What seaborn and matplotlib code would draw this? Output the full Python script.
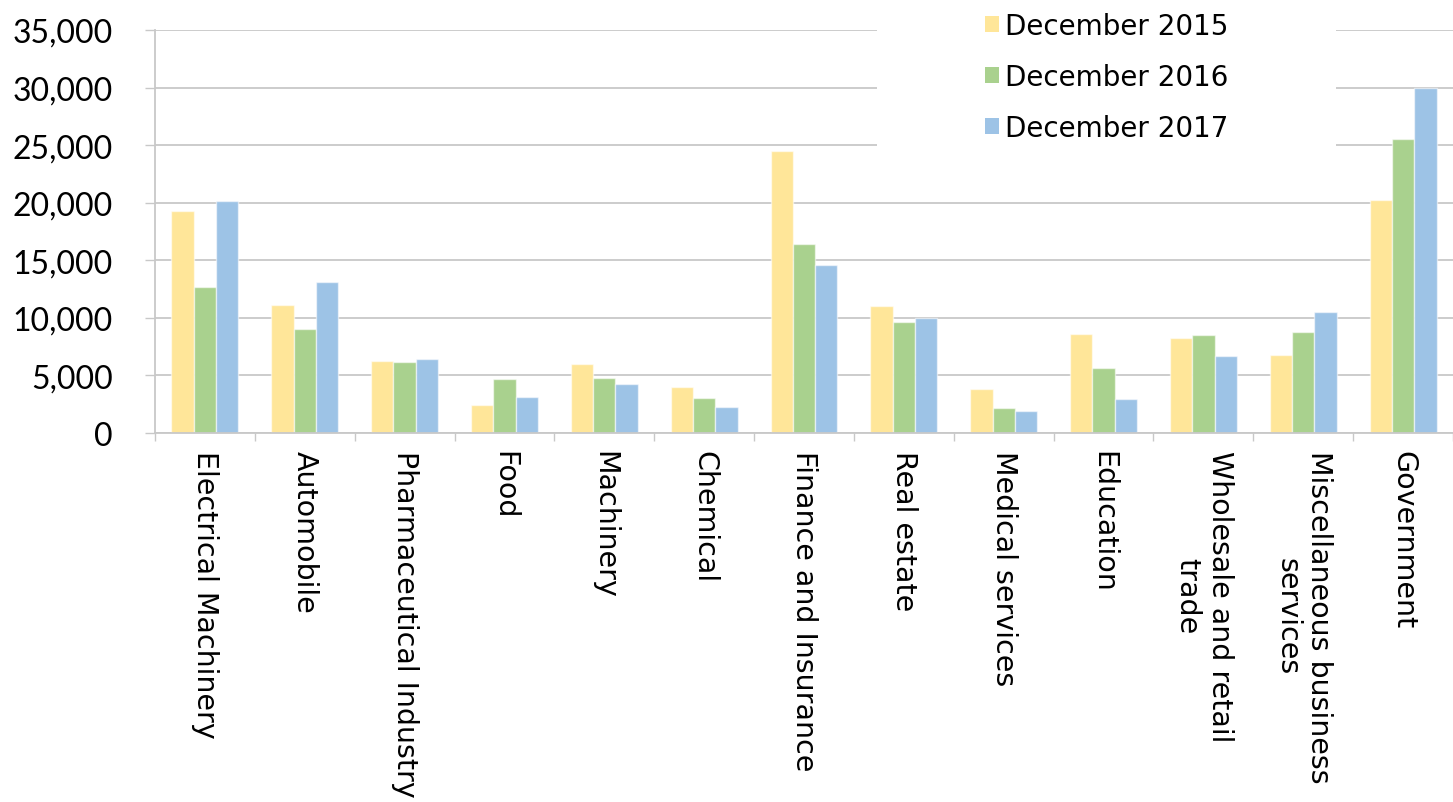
import matplotlib
matplotlib.use("Agg")
import matplotlib.pyplot as plt
import matplotlib.ticker as mticker
from matplotlib.patches import Rectangle
import seaborn as sns
import pandas as pd

categories = [
    "Electrical Machinery", "Automobile", "Pharmaceutical Industry", "Food",
    "Machinery", "Chemical", "Finance and Insurance", "Real estate",
    "Medical services", "Education", "Wholesale and retail\ntrade",
    "Miscellaneous business\nservices", "Government",
]
series_names = ["December 2015", "December 2016", "December 2017"]
dec_2015 = [19300, 11100, 6250, 2400, 6000, 4000, 24500, 11000, 3800, 8600, 8250, 6800, 20250]
dec_2016 = [12650, 9000, 6200, 4650, 4800, 3050, 16400, 9650, 2200, 5650, 8500, 8800, 25550]
dec_2017 = [20150, 13100, 6400, 3100, 4250, 2250, 14600, 10000, 1950, 2950, 6700, 10550, 29950]
y_ticks = [0, 5000, 10000, 15000, 20000, 25000, 30000, 35000]
colors = ["#FFE699", "#A9D18E", "#9DC3E6"]

rows = []
for name, vals in zip(series_names, [dec_2015, dec_2016, dec_2017]):
    for c, v in zip(categories, vals):
        rows.append({"category": c, "series": name, "value": v})
df = pd.DataFrame(rows)

sns.set_theme(style="white")
plt.rcParams["font.family"] = ["DejaVu Sans"]
plt.rcParams["text.color"] = "black"
plt.rcParams["xtick.labelcolor"] = "black"
plt.rcParams["ytick.labelcolor"] = "black"

W, H = 1453, 803
fig = plt.figure(figsize=(W / 100, H / 100), dpi=100)
left_px, zero_px, top_px = 155, 434, 31
ax = fig.add_axes([left_px / W, (H - zero_px) / H, (W - left_px) / W, (zero_px - top_px) / H])

sns.barplot(data=df, x="category", y="value", hue="series", order=categories,
            hue_order=series_names, palette=colors, width=0.67, gap=0,
            saturation=1, ax=ax, legend=True,
            edgecolor=(1, 1, 1, 0.55), linewidth=1.0)

ax.set_ylim(0, 35000)
cat_px = 100.8
ax.set_xlim(-0.5, -0.5 + (W - left_px) / cat_px)
ax.set_yticks(y_ticks)
ax.yaxis.set_major_formatter(mticker.FuncFormatter(lambda v, p: f"{int(v):,}"))
ax.set_axisbelow(True)
ax.grid(axis="y", color="#C8C8C8", linewidth=1.3)
ax.grid(axis="x", visible=False)

for s in ["top", "right"]:
    ax.spines[s].set_visible(False)
for s in ["left", "bottom"]:
    ax.spines[s].set_color("#C8C8C8")
    ax.spines[s].set_linewidth(1.3)

ax.set_xlabel("")
ax.set_ylabel("")

# y tick labels
ax.tick_params(axis="y", length=7.2, width=1.0, color="#C8C8C8", pad=23,
               labelsize=23, left=True, labelcolor="black")
for lab in ax.get_yticklabels():
    lab.set_fontfamily(["Lato", "DejaVu Sans"])
    lab.set_color("black")

# x: labels at centers, ticks at boundaries
ax.set_xticks(range(len(categories)))
ax.set_xticklabels(categories, rotation=-90, ha="center", va="top",
                   multialignment="center", fontsize=20.5, color="black")
ax.tick_params(axis="x", which="major", length=0, pad=12, labelcolor="black")
ax.set_xticks([i - 0.5 for i in range(len(categories) + 1)], minor=True)
ax.tick_params(axis="x", which="minor", length=6, width=1.0, color="#C8C8C8", bottom=True)

# legend background area (white, covers gridlines)
bg = Rectangle((0.556, 0.705), 0.354, 0.32, transform=ax.transAxes,
               facecolor="white", edgecolor="none", zorder=0.8, clip_on=False)
ax.add_patch(bg)

handles, labels = ax.get_legend_handles_labels()
leg = ax.legend(handles, labels, loc="upper left",
                bbox_to_anchor=(985 / W, 1 - 13 / H), bbox_transform=fig.transFigure,
                frameon=False, fontsize=20, handlelength=0.5, handleheight=0.5,
                handletextpad=0.22, labelspacing=0.83, borderaxespad=0, borderpad=0)
for h in leg.legend_handles:
    h.set_edgecolor("none")
for t in leg.get_texts():
    t.set_color("black")

fig.savefig("out.png", dpi=100)
